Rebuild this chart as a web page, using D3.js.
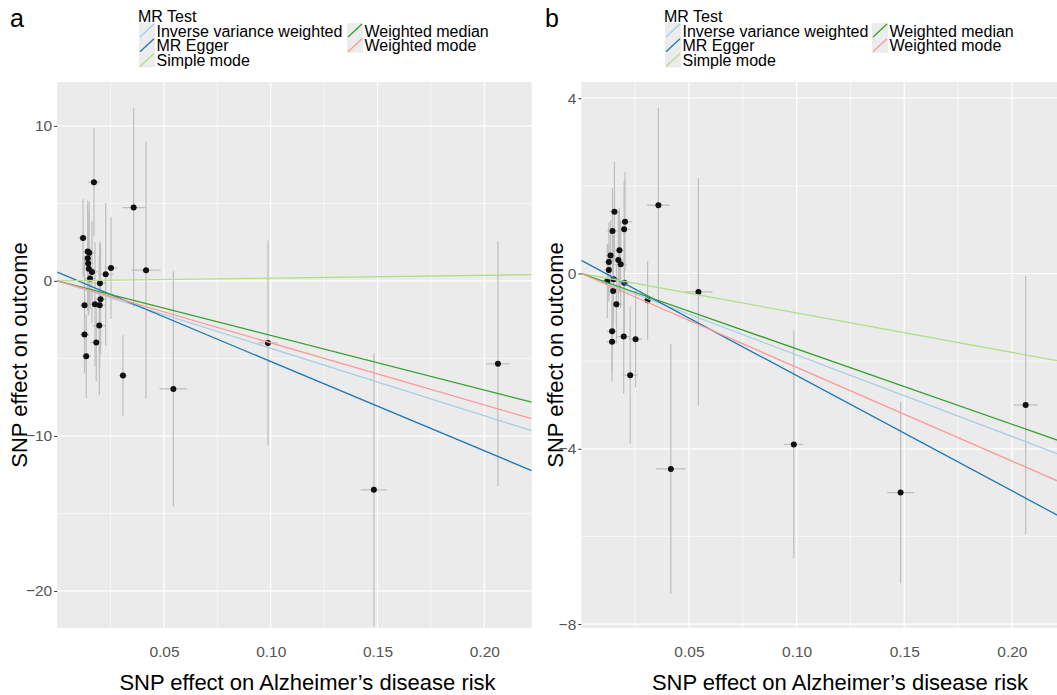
<!DOCTYPE html>
<html>
<head>
<meta charset="utf-8">
<script src="https://cdn.jsdelivr.net/npm/d3@7"></script>
<style>
  html, body { margin: 0; padding: 0; background: #fff; }
  svg { display: block; font-family: "Liberation Sans", Arial, sans-serif; }
</style>
</head>
<body>
<svg id="chart" width="1057" height="695"></svg>
<script>
// ---------------- data ----------------
const snpBetaExposure = [0.0121,0.0128,0.0128,0.0136,0.0143,0.0143,0.0145,0.0148,0.0150,0.0154,0.0163,0.0172,0.0177,0.0183,0.0197,0.0199,0.0200,0.0203,0.0227,0.0252,0.0308,0.0358,0.0416,0.0544,0.0987,0.1483,0.2064];
const snpSeExposure   = [0.0022,0.0022,0.0022,0.0023,0.0024,0.0024,0.0024,0.0025,0.0025,0.0025,0.0026,0.0027,0.0028,0.0028,0.0030,0.0030,0.0030,0.0031,0.0035,0.0030,0.0020,0.0052,0.0068,0.0065,0.0045,0.0062,0.0055];
const outcomeA   = [2.77,-1.57,-3.46,-4.86,1.89,1.46,1.12,0.79,1.81,0.15,0.58,6.37,-1.50,-3.98,-2.88,-1.57,-0.15,-1.18,0.43,0.84,-6.11,4.73,0.69,-6.97,-4.0,-13.48,-5.35];
const outcomeASe = [2.5,3.2,2.5,2.7,3.3,3.4,3.3,3.0,3.3,2.0,3.3,3.5,4.0,2.5,4.5,4.0,2.7,3.5,4.6,3.3,2.6,6.4,8.3,7.6,6.6,8.8,7.9];
const outcomeB   = [-0.17,0.26,0.08,0.41,-1.32,-1.56,0.97,-0.40,-0.13,1.41,-0.70,0.31,0.53,0.21,-1.44,1.01,-0.21,1.18,-2.32,-1.50,-0.61,1.56,-4.46,-0.42,-3.9,-5.0,-3.0];
const outcomeBSe = [0.85,0.9,0.6,0.8,0.9,0.9,0.97,1.0,1.0,1.14,0.9,1.1,0.97,1.0,1.3,1.1,1.2,1.13,1.56,1.1,0.9,2.22,2.85,2.6,2.6,2.07,2.95];

const methods      = ["Inverse variance weighted","MR Egger","Simple mode","Weighted median","Weighted mode"];
const methodColors = ["#a6cee3","#1f78b4","#b2df8a","#33a02c","#fb9a99"];
const slopeA     = [-43.5,-57.6,1.8,-35.2,-40.0];
const interceptA = [0,0.56,0,0,0];
const slopeB     = [-18.6,-26.3,-9.0,-17.2,-21.4];
const interceptB = [0,0.30,0,0,0];

const xTicks      = [0.05,0.10,0.15,0.20];
const xMinorTicks = [0.025,0.075,0.125,0.175];
const yTicksA      = [-20,-10,0,10];
const yMinorTicksA = [-15,-5,5];
const yTicksB      = [-8,-4,0,4];
const yMinorTicksB = [-6,-2,2];

const xLabel = "SNP effect on Alzheimer\u2019s disease risk";
const yLabel = "SNP effect on outcome";
const legendTitle = "MR Test";

// ---------------- drawing ----------------
const svg = d3.select("#chart");
const fmtX = d3.format(".2f");
const fmtY = d => (d < 0 ? "\u2212" + Math.abs(d) : String(d));

function panel(cfg) {
  const x = d3.scaleLinear().domain([0, 0.2222]).range([cfg.left, cfg.right]);
  const y = d3.scaleLinear().domain(cfg.yDomain).range([cfg.bottom, cfg.top]);
  const g = svg.append("g");
  const clipId = "clip" + cfg.id;
  g.append("clipPath").attr("id", clipId).append("rect")
    .attr("x", cfg.left).attr("y", cfg.top)
    .attr("width", cfg.right - cfg.left).attr("height", cfg.bottom - cfg.top);

  g.append("rect").attr("x", cfg.left).attr("y", cfg.top)
    .attr("width", cfg.right - cfg.left).attr("height", cfg.bottom - cfg.top)
    .attr("fill", "#ebebeb");

  const grid = g.append("g").attr("clip-path", `url(#${clipId})`);
  grid.selectAll(".xminor").data(xMinorTicks).join("line")
    .attr("x1", d => x(d)).attr("x2", d => x(d)).attr("y1", cfg.top).attr("y2", cfg.bottom)
    .attr("stroke", "#fff").attr("stroke-width", 0.6);
  grid.selectAll(".yminor").data(cfg.yMinor).join("line")
    .attr("y1", d => y(d)).attr("y2", d => y(d)).attr("x1", cfg.left).attr("x2", cfg.right)
    .attr("stroke", "#fff").attr("stroke-width", 0.6);
  grid.selectAll(".xmajor").data(xTicks).join("line")
    .attr("x1", d => x(d)).attr("x2", d => x(d)).attr("y1", cfg.top).attr("y2", cfg.bottom)
    .attr("stroke", "#fff").attr("stroke-width", 1.2);
  grid.selectAll(".ymajor").data(cfg.yTicks).join("line")
    .attr("y1", d => y(d)).attr("y2", d => y(d)).attr("x1", cfg.left).attr("x2", cfg.right)
    .attr("stroke", "#fff").attr("stroke-width", 1.2);

  const idx = d3.range(snpBetaExposure.length);
  const marks = g.append("g").attr("clip-path", `url(#${clipId})`);
  marks.selectAll(".ev").data(idx).join("line")
    .attr("x1", i => x(snpBetaExposure[i])).attr("x2", i => x(snpBetaExposure[i]))
    .attr("y1", i => y(cfg.yVals[i] - cfg.ySe[i])).attr("y2", i => y(cfg.yVals[i] + cfg.ySe[i]))
    .attr("stroke", "#bebebe").attr("stroke-width", 1.2);
  marks.selectAll(".eh").data(idx).join("line")
    .attr("y1", i => y(cfg.yVals[i])).attr("y2", i => y(cfg.yVals[i]))
    .attr("x1", i => x(snpBetaExposure[i] - snpSeExposure[i])).attr("x2", i => x(snpBetaExposure[i] + snpSeExposure[i]))
    .attr("stroke", "#bebebe").attr("stroke-width", 1.2);
  marks.selectAll(".pt").data(idx).join("circle")
    .attr("cx", i => x(snpBetaExposure[i])).attr("cy", i => y(cfg.yVals[i]))
    .attr("r", 3).attr("fill", "#111");

  const [x0, x1] = x.domain();
  marks.selectAll(".abl").data(d3.range(methods.length)).join("line")
    .attr("x1", x(x0)).attr("x2", x(x1))
    .attr("y1", k => y(cfg.intercepts[k] + cfg.slopes[k] * x0))
    .attr("y2", k => y(cfg.intercepts[k] + cfg.slopes[k] * x1))
    .attr("stroke", k => methodColors[k]).attr("stroke-width", 1.3);

  // axes
  const xAxis = g.append("g").attr("transform", `translate(0,${cfg.bottom})`)
    .call(d3.axisBottom(x).tickValues(xTicks).tickFormat(fmtX).tickSize(3).tickPadding(15));
  const yAxis = g.append("g").attr("transform", `translate(${cfg.left},0)`)
    .call(d3.axisLeft(y).tickValues(cfg.yTicks).tickFormat(fmtY).tickSize(3).tickPadding(2));
  [xAxis, yAxis].forEach(ax => {
    ax.select(".domain").remove();
    ax.selectAll(".tick line").attr("stroke", "#333").attr("stroke-width", 1);
    ax.selectAll(".tick text").attr("fill", "#555").style("font-size", "15.5px")
      .style("font-family", "'Liberation Sans', Arial, sans-serif");
  });
  xAxis.selectAll(".tick line").attr("stroke-opacity", 0);

  // axis titles
  g.append("text").attr("x", cfg.xTitleX).attr("y", 690)
    .attr("text-anchor", "middle").attr("fill", "#000")
    .style("font-size", "22px").text(xLabel);
  g.append("text")
    .attr("transform", `translate(${cfg.yTitleX},${(cfg.top + cfg.bottom) / 2}) rotate(-90)`)
    .attr("text-anchor", "middle").attr("fill", "#000")
    .style("font-size", "22px").text(yLabel);

  // panel letter
  g.append("text").attr("x", cfg.letterX).attr("y", 27).attr("fill", "#000")
    .style("font-size", "25px").text(cfg.letter);

  // legend
  const lg = g.append("g").attr("transform", `translate(${cfg.legendX},0)`);
  lg.append("text").attr("x", -1).attr("y", 21.5).attr("fill", "#000")
    .style("font-size", "16px").text(legendTitle);
  const rowY = [30.5, 45.2, 59.9];
  const colX = [0, cfg.legendCol2];
  methods.forEach((m, k) => {
    const col = k < 3 ? 0 : 1;
    const row = k < 3 ? k : k - 3;
    const kx = colX[col], ky = rowY[row];
    lg.append("rect").attr("x", kx).attr("y", ky - 7.5).attr("width", 16).attr("height", 15)
      .attr("fill", "#ececec");
    lg.append("line").attr("x1", kx + 1).attr("y1", ky + 6.5).attr("x2", kx + 15).attr("y2", ky - 6.5)
      .attr("stroke", methodColors[k]).attr("stroke-width", 1.3);
    lg.append("text").attr("x", kx + 17.5).attr("y", ky + 6).attr("fill", "#000")
      .style("font-size", "16px").text(m);
  });
}

panel({ id: "a", letter: "a", letterX: 10,
  left: 57.2, right: 531.7, top: 82, bottom: 628,
  yDomain: [-22.39, 12.83], yTicks: yTicksA, yMinor: yMinorTicksA,
  yVals: outcomeA, ySe: outcomeASe, slopes: slopeA, intercepts: interceptA,
  xTitleX: 307.5, yTitleX: 26.7, legendX: 139, legendCol2: 208 });

panel({ id: "b", letter: "b", letterX: 545,
  left: 581.3, right: 581.3 + 0.2222 * 2153, top: 82, bottom: 628,
  yDomain: [-8.09, 4.37], yTicks: yTicksB, yMinor: yMinorTicksB,
  yVals: outcomeB, ySe: outcomeBSe, slopes: slopeB, intercepts: interceptB,
  xTitleX: 840, yTitleX: 563.3, legendX: 665, legendCol2: 207 });
</script>
</body>
</html>
